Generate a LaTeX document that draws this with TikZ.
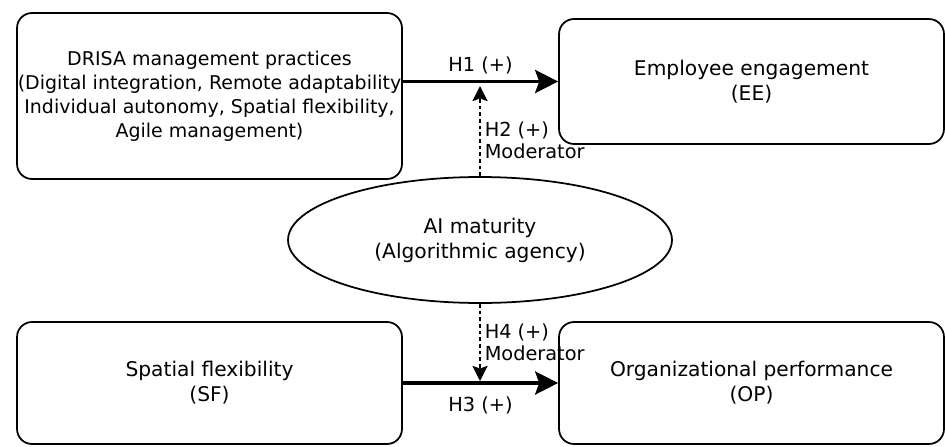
\documentclass[tikz,border=0pt]{standalone}
\usepackage{fontspec}
\setmainfont{DejaVu Sans}
\usepackage{tikz}
\usetikzlibrary{arrows.meta, positioning, shapes.geometric}

\begin{document}
\begin{tikzpicture}[
    x=0.02cm, y=-0.02cm,
    font=\fontsize{11.5}{14.2}\selectfont,
    box/.style={
        rectangle,
        rounded corners=3mm,
        draw,
        line width=1pt,
        align=center,
        inner xsep=0pt,
        minimum width=77mm
    },
    arrow/.style={-{Stealth[length=4.6mm, width=4.6mm, inset=0.8mm]}, line width=2pt},
    modarrow/.style={-{Stealth[length=3mm, width=3mm, inset=0.5mm]}, line width=1.4pt,
        dash pattern=on 2.2pt off 1.6pt},
    hlabel/.style={align=left, inner sep=2pt, font=\fontsize{11}{12.6}\selectfont}
]
\useasboundingbox (0,0) rectangle (945,446);

\node[box, minimum height=33.2mm, font=\fontsize{10.8}{13.6}\selectfont] (drisa) at (209.5,96) {
    DRISA management practices\\
    (Digital integration, Remote adaptability\\
    Individual autonomy, Spatial flexibility,\\
    Agile management)
};

\node[box, minimum height=25mm] (ee) at (751.5,81.5) {
    Employee engagement\\
    (EE)
};

\node[ellipse, draw, line width=1pt, align=center,
      minimum width=76.8mm, minimum height=25.2mm] (ai) at (480,240) {
    AI maturity\\
    (Algorithmic agency)
};

\node[box, minimum height=24.4mm] (sf) at (209.5,383) {
    Spatial flexibility\\
    (SF)
};

\node[box, minimum height=24.4mm] (op) at (751.5,383) {
    Organizational performance\\
    (OP)
};

\coordinate (m1) at (480,86);
\coordinate (m2) at (480,381);

\draw[arrow] (drisa.east |- ee) -- (ee) node[midway, above=1pt, hlabel] {H1 (+)};
\draw[arrow] (sf) -- (op) node[midway, below=5pt, hlabel] {H3 (+)};

\draw[modarrow] (ai) -- (m1)
    node[pos=0.4, right, hlabel] {H2 (+)\\Moderator};
\draw[modarrow] (ai) -- (m2)
    node[pos=0.5, right, hlabel] {H4 (+)\\Moderator};

\end{tikzpicture}
\end{document}
